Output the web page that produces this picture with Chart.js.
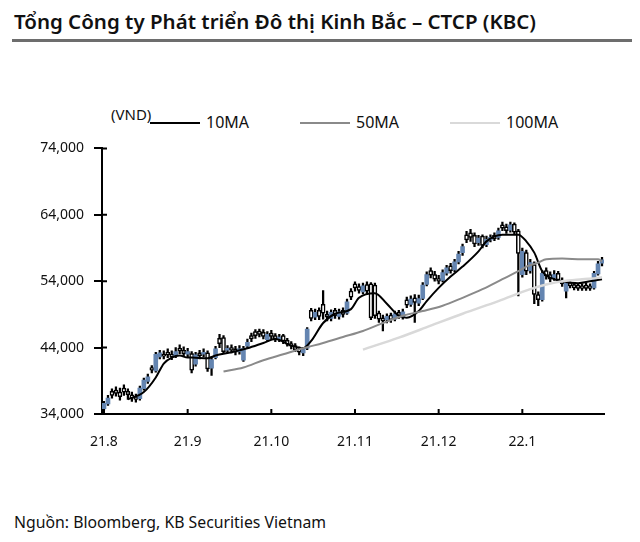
<!DOCTYPE html>
<html>
<head>
<meta charset="utf-8">
<script src="https://cdn.jsdelivr.net/npm/chart.js@4.4.0/dist/chart.umd.min.js"></script>
<style>
  body { margin: 0; width: 640px; height: 542px; position: relative; background: #fff; font-family: "Noto Sans", sans-serif; overflow: hidden; color: #111; }
  #title { position: absolute; left: 14px; top: 7px; font-size: 20.5px; font-weight: 600; white-space: nowrap; }
  #rule { position: absolute; left: 12px; top: 39px; width: 620px; height: 3px; background: #6d6d6d; }
  #unit { position: absolute; left: 111px; top: 104px; font-size: 15px; }
  .leg { position: absolute; top: 111px; font-size: 16px; white-space: nowrap; }
  .leg span { display: inline-block; width: 50px; height: 2px; vertical-align: middle; margin-right: 6px; position: relative; top: -1px; }
  #source { position: absolute; left: 14px; top: 511px; font-size: 15.8px; }
  #wrap { position: absolute; left: 0; top: 130px; width: 630px; height: 320px; }
</style>
</head>
<body>
<div id="title">Tổng Công ty Phát triển Đô thị Kinh Bắc – CTCP (KBC)</div>
<div id="rule"></div>
<div id="unit">(VND)</div>
<div id="legend"></div>
<div id="wrap"><canvas id="kbcChart"></canvas></div>
<div id="source">Nguồn: Bloomberg, KB Securities Vietnam</div>
<script>
// daily candles, index 0 = first trading day of Aug 2021
const opens = [34800,35500,37400,37600,37300,37900,37400,36900,36600,36300,
  37800,38900,41000,40500,42600,43000,43300,43000,42700,43900,
  43600,43000,43100,41500,43200,43000,43200,40900,42500,45400,
  45500,43600,44000,43800,43400,42100,44200,45800,46400,46500,
  46300,45200,46200,45800,45200,45800,45100,44600,44300,43800,
  43200,43900,49600,48600,49600,50500,49000,48400,49600,48700,
  49600,49200,52500,53600,53200,52400,53500,53600,53400,49200,
  48500,48200,48900,48300,49300,48600,51200,50500,51500,50700,
  51400,53500,55600,55000,54400,54100,55200,56300,55700,56900,
  58300,61000,61300,60900,59800,60800,59500,60200,60900,60600,
  62500,62200,61700,62600,61600,55000,58300,55600,56500,52000,
  51200,55600,55000,54500,55200,54100,52500,53800,53500,53400,
  53300,53400,53300,53000,55100,56700];
const closes = [35600,36400,36800,37100,36600,37300,36900,36400,36200,37900,
  39100,39600,40600,43000,43200,42700,42900,42600,43400,43500,
  43100,43400,40600,42900,42800,43300,40800,42200,43800,44600,
  43400,43900,43600,43300,43800,43900,44800,45300,45800,46000,
  45700,46000,45700,45300,45600,45000,44500,44200,43700,43300,
  43800,46800,48400,49300,48700,49200,48600,49300,48800,49400,
  49000,50900,51600,53000,52600,53300,52500,48500,48800,48300,
  48000,48700,48200,49100,48800,49400,50400,51300,50800,51400,
  53400,55000,54900,54300,54000,55300,56000,55600,56900,58100,
  59200,60200,60600,59600,60500,59400,60300,60600,60400,61600,
  62000,61600,62500,61400,58200,58500,55500,56800,52000,51200,
  55200,54800,54300,55000,54200,53600,53800,53300,53000,52900,
  52900,52900,52900,55200,56600,57200];
const highs = [35900,36800,37800,38100,37900,38400,37800,37300,37000,38200,
  39400,40000,41300,43300,43600,43500,43800,43500,44000,44400,
  44100,43900,43400,43300,43600,43800,43500,42600,44200,46000,
  45800,44300,44400,44200,44300,44200,45300,46200,46700,46800,
  46700,46400,46600,46100,46000,46000,45400,44900,44600,44100,
  44000,47000,49900,49800,50000,52600,49500,49700,49900,49800,
  50000,51300,52900,53900,53600,53700,53900,53800,53700,49500,
  48900,49100,49200,49500,49600,49800,51600,51800,52000,51900,
  53800,55400,56000,55500,54900,55700,56400,56700,57300,58500,
  59600,61500,61800,61300,60900,61000,60800,61000,61300,62000,
  62900,62600,62900,62800,61800,59000,58700,57300,56900,52400,
  55600,56000,55400,55600,55500,54500,54100,54100,53800,53600,
  53600,53700,53600,55500,57000,57600];
const lows = [34600,35300,36400,36700,36100,36800,36200,35900,35800,36100,
  37600,38600,40200,40300,42300,42300,42500,42200,42500,43100,
  42700,42500,40200,41200,42300,42600,40400,39800,42300,44000,
  43100,43200,43200,42900,43000,41900,43900,44900,45400,45600,
  45300,44900,45300,44900,44900,44600,44200,43800,43400,42900,
  42800,43700,48000,48200,48200,48300,48000,48000,48400,48300,
  48600,49000,51200,52500,52200,52100,52000,48200,48400,47800,
  46500,47700,47800,48000,48400,48300,50000,50200,47800,50300,
  51200,53300,54500,54000,53600,53900,54900,55200,55400,56600,
  57900,59800,60000,59200,59400,59000,59200,59900,60100,60300,
  61600,61200,61400,61000,51800,54600,55000,55200,50600,50300,
  51000,54300,53900,54100,53800,53200,51500,53000,52700,52600,
  52600,52600,52600,52800,54900,56300];

// moving averages (day index, value)
const ma10Days = [6,10,13,15,17,19,21,22,26,28,32,36,40,43,47,50,52,55,58,62,64,68,71,74,76,79,81,84,87,90,94,96,100,104,106,108,110,113,115,119,122,125];
const ma10 = [36200,37300,39500,41600,42500,42800,42500,42500,42400,42800,43300,43900,44700,45300,44300,43900,45000,47700,49100,49800,51500,52200,50600,48800,48500,49500,51000,53000,54700,56200,58500,60000,61000,61000,60000,58300,55500,54300,54000,53700,54000,54300];
const ma50Days = [30,35,40,45,50,55,60,65,70,75,80,85,90,95,100,104,106,109,111,115,120,124,125];
const ma50 = [40400,41000,42100,43000,43900,44700,45600,46500,47700,48800,49500,50300,51500,52800,54300,55500,56200,56800,57300,57400,57300,57300,57000];
const ma100Days = [65,74,82,90,99,107,111,115,120,124,125];
const ma100 = [43700,45500,47300,49100,51000,52800,53500,54000,54300,54500,54600];

const maNames = ['10MA', '50MA', '100MA'];
const maColors = ['#000000', '#8a8a8a', '#d9d9d9'];

const monthTicks = [0, 21, 42, 63, 84, 105];
const monthLabels = ['21.8', '21.9', '21.10', '21.11', '21.12', '22.1'];
const yTicks = [34000, 44000, 54000, 64000, 74000];

const BLUE = '#6485b1';

const legend = document.getElementById('legend');
const legLeft = [150, 300, 450];
maNames.forEach((n, i) => {
  const d = document.createElement('div');
  d.className = 'leg';
  d.style.left = legLeft[i] + 'px';
  d.innerHTML = '<span style="background:' + maColors[i] + '"></span>' + n;
  legend.appendChild(d);
});

function pts(days, vals) {
  return days.map((d, i) => ({ x: d, y: vals[i] }));
}

const insideTicks = {
  id: 'insideTicks',
  afterDraw(chart) {
    const ctx = chart.ctx, area = chart.chartArea;
    const xs = chart.scales.x, ys = chart.scales.y;
    ctx.save();
    ctx.strokeStyle = '#000';
    ctx.lineWidth = 2;
    ctx.beginPath();
    yTicks.forEach(v => {
      const py = ys.getPixelForValue(v);
      ctx.moveTo(area.left, py);
      ctx.lineTo(area.left + 5, py);
    });
    monthTicks.forEach(v => {
      const px = xs.getPixelForValue(v);
      ctx.moveTo(px, area.bottom);
      ctx.lineTo(px, area.bottom - 5);
    });
    ctx.stroke();
    ctx.restore();
  }
};

const lineDs = (i, days, vals, w) => ({
  type: 'line',
  label: maNames[i],
  data: pts(days, vals),
  borderColor: maColors[i],
  borderWidth: w,
  pointRadius: 0,
  cubicInterpolationMode: 'monotone',
  order: 3 - i
});

const isUp = closes.map((c, i) => c >= opens[i]);

new Chart(document.getElementById('kbcChart'), {
  type: 'bar',
  data: {
    datasets: [
      lineDs(0, ma10Days, ma10, 2),
      lineDs(1, ma50Days, ma50, 2),
      lineDs(2, ma100Days, ma100, 2.5),
      {
        label: 'body',
        data: closes.map((c, i) => ({ x: i, y: [opens[i], c] })),
        backgroundColor: isUp.map(u => u ? BLUE : '#ffffff'),
        borderColor: isUp.map(u => u ? BLUE : '#000000'),
        borderWidth: isUp.map(u => u ? 0 : 1.5),
        borderSkipped: false,
        barThickness: 4,
        grouped: false,
        order: 10
      },
      {
        label: 'wick',
        data: highs.map((h, i) => ({ x: i, y: [lows[i], h] })),
        backgroundColor: '#000000',
        borderWidth: 0,
        barThickness: 1.6,
        grouped: false,
        order: 11
      }
    ]
  },
  options: {
    responsive: true,
    maintainAspectRatio: false,
    animation: false,
    layout: { padding: { top: 16, right: 26, left: 0, bottom: 0 } },
    plugins: { legend: { display: false }, tooltip: { enabled: false } },
    scales: {
      x: {
        type: 'linear',
        min: -0.5,
        max: 125.5,
        offset: false,
        grid: { display: false },
        border: { display: true, color: '#000', width: 2 },
        afterBuildTicks: s => { s.ticks = monthTicks.map(v => ({ value: v })); },
        afterFit: s => { s.height = 36; },
        ticks: {
          autoSkip: false,
          maxRotation: 0,
          padding: 12,
          color: '#111',
          font: { family: 'Noto Sans', size: 14 },
          callback: v => monthLabels[monthTicks.indexOf(v)]
        }
      },
      y: {
        min: 34000,
        max: 74000,
        grid: { drawOnChartArea: false, drawTicks: true, tickLength: 8, color: '#000', lineWidth: 2 },
        border: { display: true, color: '#000', width: 2 },
        afterBuildTicks: s => { s.ticks = yTicks.map(v => ({ value: v })); },
        afterFit: s => { s.width = 102; },
        ticks: {
          padding: 10,
          color: '#111',
          font: { family: 'Noto Sans', size: 14 },
          callback: v => v.toLocaleString('en-US')
        }
      }
    }
  },
  plugins: [insideTicks]
});
</script>
</body>
</html>
